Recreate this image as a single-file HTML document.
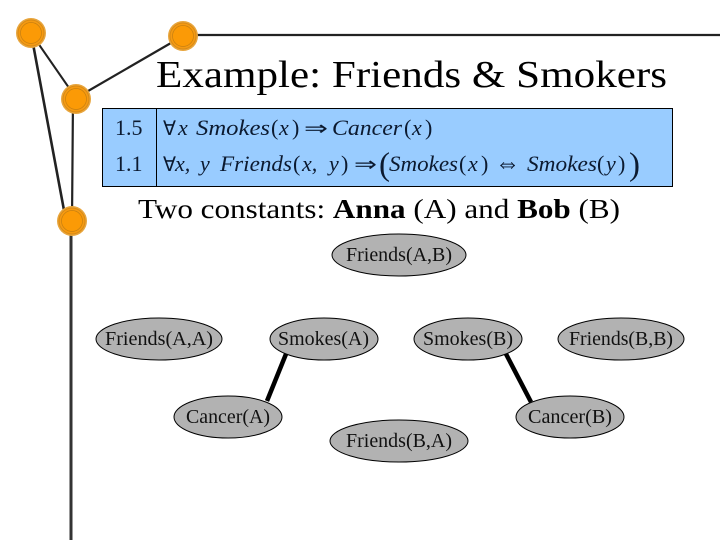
<!DOCTYPE html>
<html>
<head>
<meta charset="utf-8">
<style>
html,body{margin:0;padding:0;background:#fff;width:720px;height:540px;overflow:hidden}
svg{display:block}
text{font-family:"Liberation Serif",serif;fill:#000}
.n{font-size:19.5px;fill:#111}
.m{font-size:22px;font-style:italic;fill:#0c1a30}
.u{font-size:22px;font-style:normal;fill:#0c1a30}
.a{font-size:20px;font-style:normal;fill:#0c1a30}
</style>
</head>
<body>
<svg width="720" height="540" viewBox="0 0 720 540" xmlns="http://www.w3.org/2000/svg">
<defs>
<g id="dot">
<circle r="15" fill="#e8a53c"/>
<circle r="13" fill="#f59a12" stroke="#d98a14" stroke-width="1"/>
<circle r="10.5" fill="#fb9a06" stroke="#c77f10" stroke-width="0.7"/>
</g>
</defs>

<g stroke="#222" fill="none" stroke-linecap="round">
<line x1="183" y1="35" x2="720" y2="35" stroke-width="2.2"/>
<line x1="183" y1="36" x2="76" y2="98" stroke-width="2.2"/>
<line x1="31" y1="33" x2="76" y2="98" stroke-width="2"/>
<line x1="31" y1="33" x2="66" y2="221" stroke-width="2.6"/>
<line x1="73" y1="98" x2="72" y2="221" stroke-width="2.2"/>
<line x1="71" y1="221" x2="71" y2="540" stroke-width="3" stroke="#333"/>
</g>
<use href="#dot" x="31" y="33"/>
<use href="#dot" x="183" y="36"/>
<use href="#dot" x="76" y="99"/>
<use href="#dot" x="72" y="221"/>

<text x="156" y="87" font-size="38" textLength="511" lengthAdjust="spacingAndGlyphs">Example: Friends &amp; Smokers</text>

<rect x="102.5" y="108.5" width="570" height="78" fill="#99ccff" stroke="#000" stroke-width="1"/>
<line x1="156.5" y1="108" x2="156.5" y2="187" stroke="#000" stroke-width="1"/>
<text x="115" y="135" font-size="22" style="fill:#0c1a30">1.5</text>
<text x="115" y="171" font-size="22" style="fill:#0c1a30">1.1</text>

<!-- line 1 -->
<text class="a" x="163" y="135" textLength="13" lengthAdjust="spacingAndGlyphs">∀</text>
<text class="m" x="178" y="135">x</text>
<text class="m" x="196" y="135" textLength="74" lengthAdjust="spacingAndGlyphs">Smokes</text>
<text class="u" x="271" y="135">(</text>
<text class="m" x="279" y="135">x</text>
<text class="u" x="292" y="135">)</text>
<text class="a" x="304" y="135" textLength="24" lengthAdjust="spacingAndGlyphs">⇒</text>
<text class="m" x="332" y="135" textLength="70" lengthAdjust="spacingAndGlyphs">Cancer</text>
<text class="u" x="404" y="135">(</text>
<text class="m" x="412" y="135">x</text>
<text class="u" x="425" y="135">)</text>

<!-- line 2 -->
<text class="a" x="163" y="171" textLength="13" lengthAdjust="spacingAndGlyphs">∀</text>
<text class="m" x="175" y="171">x,</text>
<text class="m" x="200" y="171">y</text>
<text class="m" x="220" y="171" textLength="72" lengthAdjust="spacingAndGlyphs">Friends</text>
<text class="u" x="293" y="171">(</text>
<text class="m" x="302" y="171">x,</text>
<text class="m" x="329" y="171">y</text>
<text class="u" x="341" y="171">)</text>
<text class="a" x="354" y="171" textLength="23" lengthAdjust="spacingAndGlyphs">⇒</text>
<text x="379" y="175" font-size="33" style="fill:#0c1a30">(</text>
<text class="m" x="389" y="171" textLength="69" lengthAdjust="spacingAndGlyphs">Smokes</text>
<text class="u" x="459" y="171">(</text>
<text class="m" x="468" y="171">x</text>
<text class="u" x="481" y="171">)</text>
<text x="495" y="172" font-size="28" textLength="25" lengthAdjust="spacingAndGlyphs" style="fill:#0c1a30">⇔</text>
<text class="m" x="527" y="171" textLength="70" lengthAdjust="spacingAndGlyphs">Smokes</text>
<text class="u" x="597" y="171">(</text>
<text class="m" x="606" y="171">y</text>
<text class="u" x="618" y="171">)</text>
<text x="629" y="175" font-size="33" style="fill:#0c1a30">)</text>

<text x="138" y="218" font-size="27.5" textLength="482" lengthAdjust="spacingAndGlyphs">Two constants: <tspan font-weight="bold">Anna</tspan> (A) and <tspan font-weight="bold">Bob</tspan> (B)</text>

<line x1="286" y1="354" x2="267" y2="401" stroke="#000" stroke-width="4.5"/>
<line x1="506" y1="354" x2="531" y2="402" stroke="#000" stroke-width="4.5"/>

<g fill="#b2b2b2" stroke="#000" stroke-width="1">
<ellipse cx="399" cy="255" rx="67" ry="21"/>
<ellipse cx="159" cy="339" rx="63" ry="21"/>
<ellipse cx="324" cy="339" rx="54" ry="21"/>
<ellipse cx="468" cy="339" rx="54" ry="21"/>
<ellipse cx="621" cy="339" rx="63" ry="21"/>
<ellipse cx="228" cy="417" rx="54" ry="21"/>
<ellipse cx="570" cy="417" rx="54" ry="21"/>
<ellipse cx="399" cy="441" rx="69" ry="21"/>
</g>

<text class="n" x="346" y="261" textLength="106" lengthAdjust="spacingAndGlyphs">Friends(A,B)</text>
<text class="n" x="105" y="345" textLength="108" lengthAdjust="spacingAndGlyphs">Friends(A,A)</text>
<text class="n" x="278" y="345" textLength="91" lengthAdjust="spacingAndGlyphs">Smokes(A)</text>
<text class="n" x="423" y="345" textLength="90" lengthAdjust="spacingAndGlyphs">Smokes(B)</text>
<text class="n" x="569" y="345" textLength="104" lengthAdjust="spacingAndGlyphs">Friends(B,B)</text>
<text class="n" x="186" y="423" textLength="84" lengthAdjust="spacingAndGlyphs">Cancer(A)</text>
<text class="n" x="528" y="423" textLength="84" lengthAdjust="spacingAndGlyphs">Cancer(B)</text>
<text class="n" x="346" y="447" textLength="106" lengthAdjust="spacingAndGlyphs">Friends(B,A)</text>
</svg>
</body>
</html>
